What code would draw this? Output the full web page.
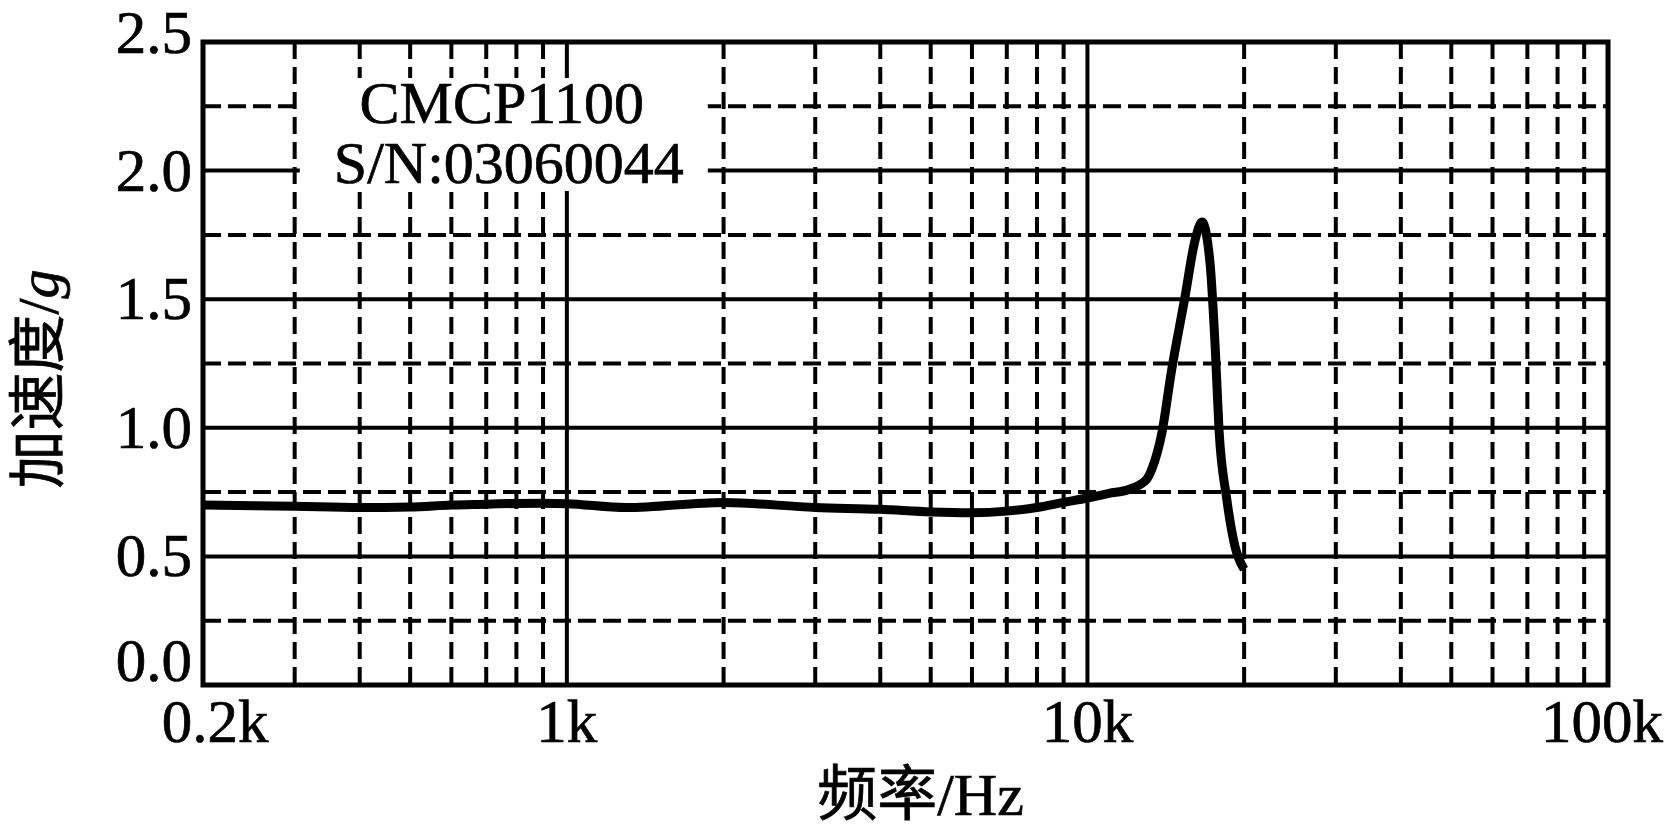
<!DOCTYPE html>
<html>
<head>
<meta charset="utf-8">
<script src="https://cdn.jsdelivr.net/npm/d3@7"></script>
<style>
  body { margin: 0; background: #fff; }
  text { font-family: 'Liberation Serif', 'Noto Sans CJK SC', serif; fill: #000; stroke: #000; stroke-width: 0.7px; }
</style>
</head>
<body>
<div id="chart"></div>
<script>
// frequency in kHz, acceleration in g
const freqs = [0.2, 0.3, 0.4, 0.5, 0.6, 0.7, 0.8, 0.9, 1, 1.3, 2, 3, 4, 5, 6, 7, 8, 9, 10, 11, 12, 13, 13.3, 13.9, 14.5, 15.4, 16.1, 16.6, 17.2, 17.6, 17.9, 18.5, 19.2, 20]
const accel = [0.70, 0.695, 0.69, 0.692, 0.70, 0.703, 0.706, 0.707, 0.705, 0.69, 0.71, 0.69, 0.683, 0.673, 0.67, 0.676, 0.69, 0.71, 0.727, 0.745, 0.76, 0.80, 0.84, 0.98, 1.22, 1.51, 1.73, 1.80, 1.64, 1.31, 0.99, 0.73, 0.54, 0.45]

const xTicks = [0.2, 1, 10, 100]
const xTickLabels = ['0.2k', '1k', '10k', '100k']
const xMajor = [1, 10]
const xMinor = [0.3, 0.4, 0.5, 0.6, 0.7, 0.8, 0.9, 2, 3, 4, 5, 6, 7, 8, 9, 20, 30, 40, 50, 60, 70, 80, 90]
const yTicks = [0, 0.5, 1.0, 1.5, 2.0, 2.5]
const yMajor = [0.5, 1.0, 1.5, 2.0]
const yMinor = [0.25, 0.75, 1.25, 1.75, 2.25]

const width = 1664
const height = 833
const margin = { top: 42, left: 203, right: 56, bottom: 148 }

const svg = d3
  .select('#chart')
  .append('svg')
  .attr('width', width)
  .attr('height', height)

const x = d3
  .scaleLog()
  .domain([0.2, 100])
  .range([margin.left, width - margin.right])

const y = d3
  .scaleLinear()
  .domain([0, 2.5])
  .range([height - margin.bottom, margin.top])

const grid = svg.append('g')

// vertical grid
grid
  .selectAll('.vminor')
  .data(xMinor)
  .enter()
  .append('line')
  .attr('x1', d => x(d))
  .attr('x2', d => x(d))
  .attr('y1', y(2.5))
  .attr('y2', y(0))
  .attr('stroke', '#000')
  .attr('stroke-width', 4)
  .attr('stroke-dasharray', '17,8')

grid
  .selectAll('.vmajor')
  .data(xMajor)
  .enter()
  .append('line')
  .attr('x1', d => x(d))
  .attr('x2', d => x(d))
  .attr('y1', y(2.5))
  .attr('y2', y(0))
  .attr('stroke', '#000')
  .attr('stroke-width', 4)

// horizontal grid
grid
  .selectAll('.hminor')
  .data(yMinor)
  .enter()
  .append('line')
  .attr('x1', x(0.2))
  .attr('x2', x(100))
  .attr('y1', d => y(d))
  .attr('y2', d => y(d))
  .attr('stroke', '#000')
  .attr('stroke-width', 4)
  .attr('stroke-dasharray', '18,7')

grid
  .selectAll('.hmajor')
  .data(yMajor)
  .enter()
  .append('line')
  .attr('x1', x(0.2))
  .attr('x2', x(100))
  .attr('y1', d => y(d))
  .attr('y2', d => y(d))
  .attr('stroke', '#000')
  .attr('stroke-width', 4)

// annotation box masks the grid
const note = svg.append('g')
note
  .append('rect')
  .attr('x', x(0.76) - 205)
  .attr('y', y(2.5) + 36)
  .attr('width', 408)
  .attr('height', 113)
  .attr('fill', '#fff')

note
  .append('text')
  .attr('x', x(0.76) - 3)
  .attr('y', y(2.5) + 81)
  .attr('text-anchor', 'middle')
  .attr('font-size', 60)
  .text('CMCP1100')

note
  .append('text')
  .attr('x', x(0.76) + 4)
  .attr('y', y(2.5) + 141)
  .attr('text-anchor', 'middle')
  .attr('font-size', 60)
  .text('S/N:03060044')

// data line
const line = d3
  .line()
  .x((d, i) => x(freqs[i]))
  .y(d => y(d))
  .curve(d3.curveMonotoneX)

svg
  .append('path')
  .datum(accel)
  .attr('d', line)
  .attr('fill', 'none')
  .attr('stroke', '#000')
  .attr('stroke-width', 9)
  .attr('stroke-linejoin', 'round')

// frame
svg
  .append('rect')
  .attr('x', x(0.2))
  .attr('y', y(2.5))
  .attr('width', x(100) - x(0.2))
  .attr('height', y(0) - y(2.5))
  .attr('fill', 'none')
  .attr('stroke', '#000')
  .attr('stroke-width', 5)

// y tick labels
svg
  .selectAll('.ylab')
  .data(yTicks)
  .enter()
  .append('text')
  .attr('x', x(0.2) - 11)
  .attr('y', d => y(d))
  .attr('dy', d => (d === 0 ? -4 : d === 2.5 ? 11 : 20))
  .attr('text-anchor', 'end')
  .attr('font-size', 61)
  .text(d => d.toFixed(1))

// x tick labels
svg
  .selectAll('.xlab')
  .data(xTicks)
  .enter()
  .append('text')
  .attr('x', d => x(d))
  .attr('dx', d => (d === 0.2 ? 12 : d === 100 ? -6 : 0))
  .attr('y', y(0) + 57)
  .attr('text-anchor', 'middle')
  .attr('font-size', 61)
  .text((d, i) => xTickLabels[i])

// axis titles
svg
  .append('text')
  .attr('x', (x(0.2) + x(100)) / 2 + 15)
  .attr('y', y(0) + 130)
  .attr('text-anchor', 'middle')
  .attr('font-size', 60)
  .text('频率/Hz')

const yTitle = svg
  .append('text')
  .attr('transform', 'translate(58,' + 379 + ') rotate(-90)')
  .attr('text-anchor', 'middle')
  .attr('font-size', 58)

yTitle.append('tspan').text('加速度/')
yTitle
  .append('tspan')
  .attr('font-style', 'italic')
  .text('g')
</script>
</body>
</html>
